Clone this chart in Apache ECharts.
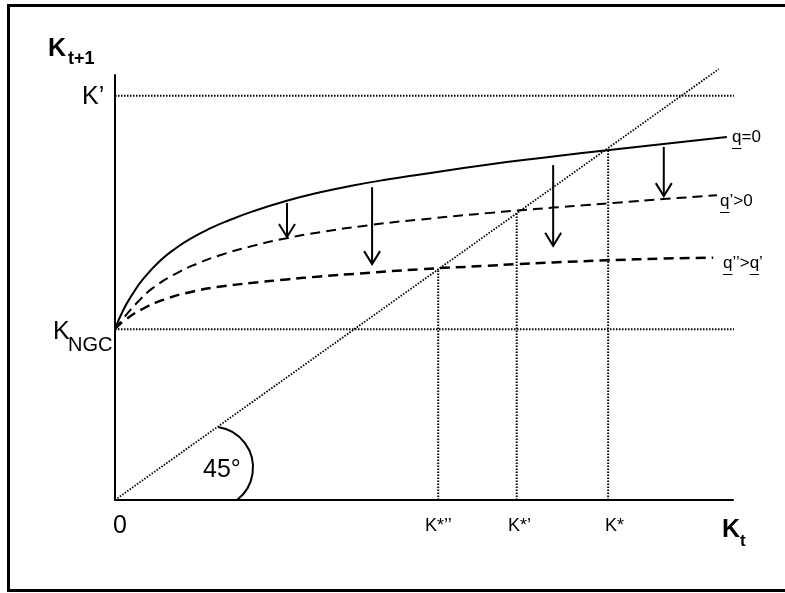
<!DOCTYPE html>
<html><head><meta charset="utf-8">
<script src="https://cdn.jsdelivr.net/npm/echarts@6/dist/echarts.min.js"></script>
<style>html,body{margin:0;padding:0;background:#fff}#c{width:785px;height:593px}</style>
</head><body><div id="c"></div>
<script>
// ---- data (axis units 0..100 on both axes) ----
const q0X  = [0, 1.3, 2.9, 4.5, 7.3, 10, 12.6, 15.4, 18.1, 22.3, 27.8, 33.2, 38.5, 44, 49.4, 60.2, 70.9, 79.6, 99];
const q0Y  = [40.2, 44.6, 48.6, 51.9, 56.3, 59.4, 61.8, 63.9, 65.6, 67.9, 70.4, 72.4, 74.0, 75.4, 76.6, 78.9, 80.8, 82.3, 85.4];
const qpX  = [0, 1.62, 3.56, 6.15, 10.03, 13.27, 17, 22.3, 27.8, 33.2, 41.3, 49.4, 60.2, 65.05, 70.9, 76.4, 81.7, 88.7, 97.4];
const qpY  = [40.2, 43.2, 46.4, 49.9, 53.4, 55.6, 57.6, 59.8, 61.6, 63.0, 64.7, 66.0, 67.5, 68.1, 68.8, 69.4, 70.0, 70.8, 71.7];
const qppX = [0, 1.29, 4.53, 8.41, 12.14, 16.5, 22.3, 27.8, 33.2, 39.6, 49.4, 60.2, 65.05, 70.9, 79.6, 88.7, 96.8];
const qppY = [40.2, 42.0, 45.0, 47.4, 48.9, 50.1, 51.1, 51.9, 52.6, 53.3, 54.3, 55.1, 55.5, 55.9, 56.4, 56.8, 57.0];
const diagX = [0, 97.7];
const diagY = [0, 101.4];
const kPrimeLevel = 95.1;
const kNgcLevel = 40.2;
const guideEndX = 103.6;
const kStarX   = [52.3, 65.0, 79.8];
const kStarTop = [54.3, 67.5, 82.6];
const kStarLabels = ['K*\u2019\u2019', 'K*\u2019', 'K*'];
const arrowX   = [27.83, 41.6, 70.9, 88.8];
const arrowTop = [69.9, 73.6, 78.8, 83.1];
const arrowTip = [61.9, 55.5, 59.8, 71.5];
const arcCenter = [15.7, 7.65];

const FF = '"Liberation Sans", Arial, sans-serif';
const pairs = (xs, ys) => xs.map((x, i) => [x, ys[i]]);
const dotted = {color: '#000', width: 2, type: [1.5, 1.5]};
const dottedV = {color: '#000', width: 1.8, type: [1.5, 1.5]};

const chart = echarts.init(document.getElementById('c'), null, {renderer: 'canvas'});

const series = [
  {type: 'line', data: pairs(diagX, diagY), showSymbol: false, clip: false, lineStyle: dottedV, z: 2},
  {type: 'line', data: [[0, kPrimeLevel], [guideEndX, kPrimeLevel]], showSymbol: false, clip: false, lineStyle: dotted, z: 2},
  {type: 'line', data: [[0, kNgcLevel], [guideEndX, kNgcLevel]], showSymbol: false, clip: false, lineStyle: dotted, z: 2},
  {type: 'line', data: pairs(q0X, q0Y), showSymbol: false, smooth: 0.5, clip: false,
   lineStyle: {color: '#000', width: 2}, z: 3},
  {type: 'line', data: pairs(qpX, qpY), showSymbol: false, smooth: 0.5, clip: false,
   lineStyle: {color: '#000', width: 2, type: [10, 6]}, z: 3},
  {type: 'line', data: pairs(qppX, qppY), showSymbol: false, smooth: 0.5, clip: false,
   lineStyle: {color: '#000', width: 2.5, type: [10, 6]}, z: 3}
];
kStarX.forEach((x, i) => {
  series.push({type: 'line', data: [[x, 0], [x, kStarTop[i]]], showSymbol: false, clip: false, lineStyle: dotted, z: 2});
});
series.push({
  type: 'custom', z: 4,
  data: arrowX.map((x, i) => [x, arrowTop[i], arrowTip[i]]),
  encode: {x: 0, y: [1, 2]},
  renderItem: function (params, api) {
    const p1 = api.coord([api.value(0), api.value(1)]);
    const p2 = api.coord([api.value(0), api.value(2)]);
    return {type: 'group', children: [
      {type: 'line', shape: {x1: p1[0], y1: p1[1], x2: p2[0], y2: p2[1]}, style: {stroke: '#000', lineWidth: 2}},
      {type: 'polyline', shape: {points: [[p2[0] - 8, p2[1] - 13], [p2[0], p2[1]], [p2[0] + 8, p2[1] - 13]]},
       style: {stroke: '#000', lineWidth: 2, fill: null}}
    ]};
  }
});
series.push({
  type: 'custom', z: 4,
  data: [arcCenter],
  renderItem: function (params, api) {
    const c = api.coord([api.value(0), api.value(1)]);
    return {type: 'arc', shape: {cx: c[0], cy: c[1], r: 41, startAngle: -1.424, endAngle: 0.915, clockwise: true},
            style: {stroke: '#000', lineWidth: 2, fill: null}};
  }
});

const ax = {
  type: 'value', min: 0, max: 100,
  axisLine: {show: true, onZero: false, lineStyle: {color: '#000', width: 2}},
  axisTick: {show: false}, axisLabel: {show: false}, splitLine: {show: false}
};

chart.setOption({
  animation: false,
  backgroundColor: '#fff',
  grid: {left: 115, right: 52, top: 75, bottom: 93, containLabel: false},
  xAxis: ax,
  yAxis: ax,
  series: series
});

// ---- texts ----
const cv = document.createElement('canvas').getContext('2d');
function tw(str, font) { cv.font = font; return cv.measureText(str).width; }
function txt(x, y, s, size, bold, align) {
  return {type: 'text', x: x, y: y, z: 10, silent: true,
    style: {text: s, fill: '#000', fontSize: size, fontWeight: bold ? 'bold' : 'normal', fontFamily: FF,
            align: align || 'left', verticalAlign: 'middle'}};
}
const g = [];
g.push({type: 'rect', shape: {x: 8.5, y: 5.5, width: 781, height: 585}, style: {stroke: '#000', lineWidth: 3, fill: null}, z: 0, silent: true});
g.push(txt(48, 49, 'K', 25, true));
g.push(txt(68, 59.5, 't+1', 18, true));
g.push(txt(82, 97, 'K\u2019', 25, false));
g.push(txt(53, 332.5, 'K', 25, false));
g.push(txt(68, 345.5, 'NGC', 20, false));
g.push(txt(113, 526.5, '0', 25, false));
g.push(txt(203, 470, '45\u00B0', 25, false));
g.push(txt(722, 530, 'K', 25, true));
g.push(txt(740, 541, 't', 17, true));
const kStarLabelLeft = [425, 508, 605];
kStarLabels.forEach((s, i) => g.push(txt(kStarLabelLeft[i], 526, s, 18, false)));
// q labels with underlined q
const qf = '17px "Liberation Sans"';
const qLabels = [
  {x: 732, y: 137.5, s: 'q=0', u: [['', 'q']]},
  {x: 720, y: 201.5, s: 'q\u2019>0', u: [['', 'q']]},
  {x: 723, y: 263.5, s: 'q\u2019\u2019>q\u2019', u: [['', 'q'], ['q\u2019\u2019>', 'q']]}
];
qLabels.forEach(L => {
  g.push(txt(L.x, L.y, L.s, 17, false));
  L.u.forEach(([pre, ch]) => {
    const x0 = L.x + tw(pre, qf);
    const x1 = x0 + tw(ch, qf);
    g.push({type: 'line', z: 10, silent: true, shape: {x1: x0, y1: L.y + 11, x2: x1, y2: L.y + 11}, style: {stroke: '#000', lineWidth: 1}});
  });
});
chart.setOption({graphic: {elements: g}});
</script>
</body></html>
